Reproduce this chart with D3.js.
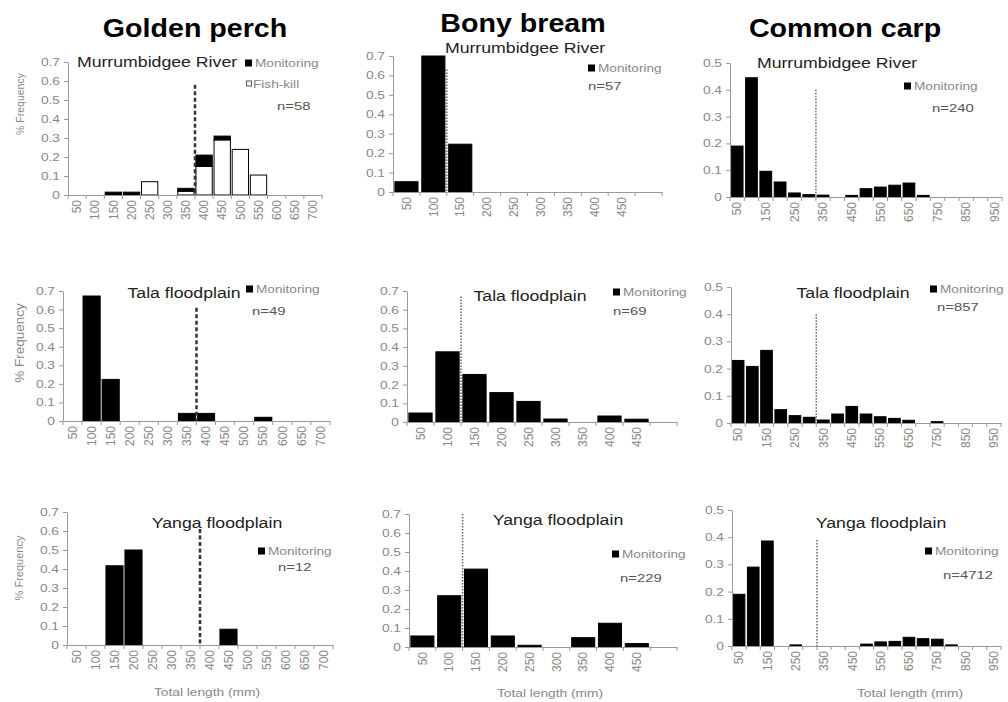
<!DOCTYPE html>
<html>
<head>
<meta charset="utf-8">
<script src="https://cdn.jsdelivr.net/npm/d3@7"></script>
<style>
body{margin:0;background:#fff;}
svg{display:block;font-family:"Liberation Sans",Arial,sans-serif;}
</style>
</head>
<body>
<svg id="chart" width="1008" height="702"></svg>
<script>
var speciesNames = ["Golden perch","Bony bream","Common carp"];
var siteNames = ["Murrumbidgee River","Tala floodplain","Yanga floodplain"];
var sampleSizes = ["n=58","n=57","n=240","n=49","n=69","n=857","n=12","n=229","n=4712"];

var perchBins = ["50","100","150","200","250","300","350","400","450","500","550","600","650","700"];
var breamBins = ["50","100","150","200","250","300","350","400","450","500"];
var breamTickLabels = ["50","100","150","200","250","300","350","400","450",""];
var carpBins = ["50","100","150","200","250","300","350","400","450","500","550","600","650","700","750","800","850","900","950"];
var carpTickLabels = ["50","","150","","250","","350","","450","","550","","650","","750","","850","","950"];

var perchYTicks = [0,0.1,0.2,0.3,0.4,0.5,0.6,0.7];
var carpYTicks = [0,0.1,0.2,0.3,0.4,0.5];

// proportions per length class
var perchMurrumbidgeeMonitoring = [0,0,0.015,0.015,0,0,0.015,0.06,0.02,0,0,0,0,0];
var perchMurrumbidgeeFishkill = [0,0,0,0,0.07,0,0.02,0.15,0.29,0.24,0.105,0,0,0];
var perchTala = [0,0.673,0.224,0,0,0,0.041,0.041,0,0,0.02,0,0,0];
var perchYanga = [0,0,0.417,0.5,0,0,0,0,0.083,0,0,0,0,0];
var breamMurrumbidgee = [0.053,0.70,0.246,0,0,0,0,0,0,0];
var breamTala = [0.048,0.375,0.254,0.157,0.11,0.016,0,0.032,0.015,0];
var breamYanga = [0.058,0.27,0.41,0.058,0.009,0,0.049,0.125,0.018,0];
var carpMurrumbidgee = [0.19,0.445,0.096,0.056,0.015,0.009,0.007,0,0.006,0.031,0.037,0.044,0.052,0.006,0,0,0,0,0];
var carpTala = [0.23,0.208,0.267,0.049,0.027,0.021,0.011,0.033,0.061,0.033,0.023,0.017,0.01,0,0.005,0,0,0,0];
var carpYanga = [0.19,0.29,0.386,0,0.004,0,0,0,0,0.007,0.015,0.017,0.032,0.027,0.025,0.004,0,0,0];

// reference length line: sits after this class, drawn up to this height
var refBins = ["350","100","300"];
var refTops = [0.58,0.63,0.4,0.61,0.67,0.4,0.61,0.7,0.39];

var svg = d3.select("#chart");

function addText(g,x,y,str,size,sx,anchor){
    return g.append("text")
        .attr("transform","translate("+x+","+y+") scale("+sx+",1)")
        .attr("text-anchor",anchor||"start")
        .style("font-size",size+"px")
        .text(str);
}

function drawPanel(p,idx){
    var g = svg.append("g");
    var L=p.box[0], T=p.box[1], R=p.box[2], B=p.box[3];
    var sp = idx%3;
    var cat = d3.scaleBand().domain(p.bins).range([L,R]);
    var y = d3.scaleLinear().domain([0,p.yTicks[p.yTicks.length-1]]).range([B,T]);

    var rows = p.bins.map(function(b,i){
        return {bin:b, fishkill:p.fishkill?p.fishkill[i]:0, monitoring:p.monitoring[i]};
    });
    var keys = p.fishkill ? ["fishkill","monitoring"] : ["monitoring"];
    var stacked = d3.stack().keys(keys)(rows);
    var inset = cat.bandwidth()*p.gap/2;

    g.selectAll("g.series")
        .data(stacked)
        .enter()
        .append("g")
        .attr("fill",function(d){ return d.key=="fishkill"?"#fff":"#000"; })
        .attr("stroke","#000")
        .attr("stroke-width",1)
        .selectAll("rect")
        .data(function(d){ return d.filter(function(v){ return v[1]-v[0]>0; }); })
        .enter()
        .append("rect")
        .attr("x",function(d){ return cat(d.data.bin)+inset; })
        .attr("width",cat.bandwidth()-2*inset)
        .attr("y",function(d){ return y(d[1]); })
        .attr("height",function(d){ return y(d[0])-y(d[1]); });

    var yAxis = g.append("g")
        .attr("transform","translate("+L+",0)")
        .call(d3.axisLeft(y).tickValues(p.yTicks).tickSize(4).tickSizeOuter(0)
            .tickFormat(function(d){ return d===0?"0":d3.format(".1f")(d); }));
    yAxis.attr("font-family",null);
    yAxis.select(".domain").attr("stroke","#999");
    yAxis.selectAll(".tick line").attr("stroke","#999");
    yAxis.selectAll(".tick text")
        .attr("fill","#888")
        .style("font-size","11px")
        .attr("x",-8/1.25)
        .attr("transform","scale(1.25,1)");

    var xAxis = g.append("g")
        .attr("transform","translate(0,"+B+")")
        .call(d3.axisBottom(cat).tickSize(0).tickSizeOuter(0)
            .tickFormat(function(d,i){ return p.tickLabels[i]; }));
    xAxis.attr("font-family",null);
    xAxis.select(".domain").attr("stroke","#999");
    xAxis.selectAll(".tick text")
        .attr("fill","#888")
        .style("font-size","12px")
        .attr("transform","rotate(-90)")
        .attr("x",-5)
        .attr("y",0)
        .attr("dy","0.35em")
        .attr("text-anchor","end");
    xAxis.selectAll("line.bound")
        .data(d3.range(p.bins.length+1))
        .enter()
        .append("line")
        .attr("class","bound")
        .attr("x1",function(i){ return L+i*cat.step(); })
        .attr("x2",function(i){ return L+i*cat.step(); })
        .attr("y1",0).attr("y2",4)
        .attr("stroke","#999");

    var rx = cat(p.refBin)+cat.step();
    g.append("line")
        .attr("x1",rx).attr("x2",rx)
        .attr("y1",y(p.refTop)).attr("y2",B)
        .attr("stroke",sp==0?"#333":"#666")
        .attr("stroke-width",sp==0?2.5:1.5)
        .attr("stroke-dasharray",sp==0?"4,2.5":"1.5,1.5");

    addText(g,p.sub[0],p.sub[1],p.site,15,1.18,"middle").attr("fill","#222");

    g.append("rect").attr("x",p.leg[0]).attr("y",p.leg[1]-3.5).attr("width",7).attr("height",7).attr("fill","#000");
    addText(g,p.leg[0]+10,p.leg[1]+4,"Monitoring",10.5,1.3).attr("fill","#888");
    if(p.fishkill){
        g.append("rect").attr("x",p.leg[0]+1.5).attr("y",p.leg[1]+18).attr("width",5).attr("height",5)
            .attr("fill","#fff").attr("stroke","#555");
        addText(g,p.leg[0]+8,p.leg[1]+24.5,"Fish-kill",10.5,1.3).attr("fill","#888");
    }
    addText(g,p.n[0],p.n[1],p.nText,11,1.35).attr("fill","#555");

    if(sp==0){
        g.append("text")
            .attr("transform","translate("+p.ylab[0]+","+p.ylab[1]+") rotate(-90)")
            .attr("text-anchor","middle")
            .attr("dy","0.35em")
            .attr("fill","#888")
            .style("font-size",p.ylab[2]+"px")
            .text("% Frequency");
    }
    if(idx>=6){
        addText(g,p.xlab[0],p.xlab[1],"Total length (mm)",11,1.25,"middle").attr("fill","#888");
    }
}

var speciesBins = [perchBins,breamBins,carpBins];
var speciesTicks = [perchBins,breamTickLabels,carpTickLabels];
var speciesY = [perchYTicks,perchYTicks,carpYTicks];
var speciesGap = [0.1,0.14,0.18];
var seriesList = [perchMurrumbidgeeMonitoring,breamMurrumbidgee,carpMurrumbidgee,
                  perchTala,breamTala,carpTala,
                  perchYanga,breamYanga,carpYanga];

// layout: plot box [left,top,right,bottom], subtitle centre, legend, n label
var layout = [
    {box:[68,62,322,195],  sub:[157,67],  leg:[245,63],  n:[277,110], ylab:[20,104,10.5]},
    {box:[393,56,662,192], sub:[525,53],  leg:[588,68],  n:[588,90]},
    {box:[730,63,1002,197],sub:[837,68],  leg:[904,86],  n:[932,112]},
    {box:[63,291,330,421], sub:[184,298], leg:[246,289], n:[252,315], ylab:[19,343,13.5]},
    {box:[407,291,677,422],sub:[530,301], leg:[613,292], n:[613,315]},
    {box:[731,287,1001,423],sub:[853,298],leg:[930,289], n:[937,311]},
    {box:[67,512,333,645], sub:[217,528], leg:[258,551], n:[278,571], ylab:[19,568,11], xlab:[207,696]},
    {box:[409,514,677,647],sub:[558,525], leg:[612,554], n:[620,582], xlab:[550,697]},
    {box:[732,510,1001,646],sub:[881,528],leg:[925,551], n:[943,579], xlab:[910,697]}
];

layout.forEach(function(l,i){
    var sp = i%3, row = Math.floor(i/3);
    l.bins = speciesBins[sp];
    l.tickLabels = speciesTicks[sp];
    l.yTicks = speciesY[sp];
    l.gap = speciesGap[sp];
    l.monitoring = seriesList[i];
    l.fishkill = i==0 ? perchMurrumbidgeeFishkill : null;
    l.refBin = refBins[sp];
    l.refTop = refTops[i];
    l.site = siteNames[row];
    l.nText = sampleSizes[i];
    drawPanel(l,i);
});

var titleX = [195,523,845], titleY = [37,32,37];
speciesNames.forEach(function(s,i){
    addText(svg,titleX[i],titleY[i],s,26,1.1,"middle")
        .style("font-weight","bold")
        .attr("fill","#000");
});
</script>
</body>
</html>
